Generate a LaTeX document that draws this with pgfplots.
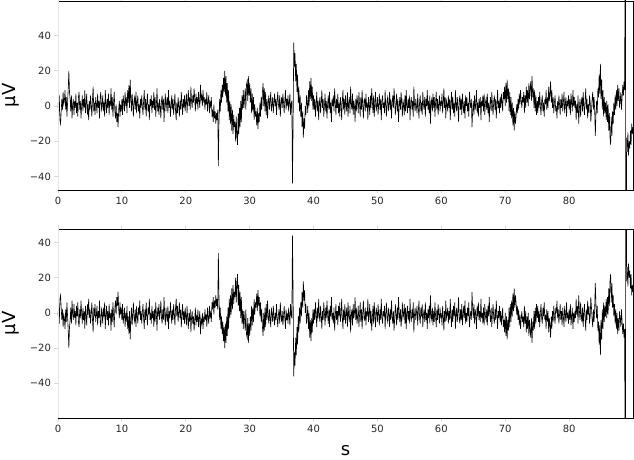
\documentclass[border=0pt]{standalone}
\usepackage{pgfplots}
\pgfplotsset{compat=1.18}
\usepackage{pgfplotstable}
\usepackage{fontspec}
\setmainfont{DejaVu Sans}

% one channel, sampled every 0.1 s; the lower panel shows the same trace inverted
\pgfplotstableread[row sep=\\]{
t v\\
0.0 2\\0.1 -4\\0.2 6\\0.3 -8\\0.4 -10\\0.5 -3\\0.6 4\\0.7 -2\\0.8 8\\0.9 1\\
1.0 3\\1.1 9\\1.2 -2\\1.3 5\\1.4 -6\\1.5 2\\1.6 10\\1.7 20\\1.8 8\\1.9 4\\
2.0 -3\\2.1 6\\2.2 -7\\2.3 1\\2.4 4\\2.5 -5\\2.6 3\\2.7 -1\\2.8 7\\2.9 -4\\
3.0 2\\3.1 -6\\3.2 5\\3.3 8\\3.4 -2\\3.5 3\\3.6 -7\\3.7 0\\3.8 6\\3.9 -3\\
4.0 4\\4.1 -1\\4.2 9\\4.3 -4\\4.4 2\\4.5 7\\4.6 -5\\4.7 1\\4.8 -8\\4.9 3\\
5.0 -2\\5.1 6\\5.2 0\\5.3 -6\\5.4 4\\5.5 11\\5.6 -3\\5.7 2\\5.8 -5\\5.9 5\\
6.0 1\\6.1 -4\\6.2 7\\6.3 -1\\6.4 3\\6.5 -7\\6.6 5\\6.7 8\\6.8 -2\\6.9 0\\
7.0 6\\7.1 -3\\7.2 2\\7.3 -6\\7.4 9\\7.5 1\\7.6 -4\\7.7 4\\7.8 -1\\7.9 7\\
8.0 -5\\8.1 3\\8.2 0\\8.3 10\\8.4 -2\\8.5 5\\8.6 -6\\8.7 2\\8.8 8\\8.9 -3\\
9.0 -7\\9.1 1\\9.2 -9\\9.3 -4\\9.4 -12\\9.5 -2\\9.6 3\\9.7 -6\\9.8 1\\9.9 -3\\
10.0 4\\10.1 -5\\10.2 6\\10.3 2\\10.4 -3\\10.5 8\\10.6 0\\10.7 5\\10.8 -4\\10.9 9\\
11.0 2\\11.1 12\\11.2 -1\\11.3 15\\11.4 4\\11.5 -3\\11.6 7\\11.7 1\\11.8 -6\\11.9 3\\
12.0 5\\12.1 -2\\12.2 8\\12.3 -4\\12.4 2\\12.5 6\\12.6 -3\\12.7 1\\12.8 -7\\12.9 4\\
13.0 -1\\13.1 6\\13.2 0\\13.3 -5\\13.4 3\\13.5 9\\13.6 -2\\13.7 4\\13.8 -6\\13.9 2\\
14.0 7\\14.1 -3\\14.2 1\\14.3 -8\\14.4 4\\14.5 0\\14.6 6\\14.7 -4\\14.8 3\\14.9 -1\\
15.0 8\\15.1 -2\\15.2 5\\15.3 -6\\15.4 1\\15.5 10\\15.6 -3\\15.7 2\\15.8 -5\\15.9 4\\
16.0 0\\16.1 -7\\16.2 3\\16.3 6\\16.4 -2\\16.5 4\\16.6 -9\\16.7 1\\16.8 7\\16.9 -3\\
17.0 2\\17.1 5\\17.2 -4\\17.3 9\\17.4 -1\\17.5 3\\17.6 -6\\17.7 0\\17.8 6\\17.9 -2\\
18.0 4\\18.1 -5\\18.2 1\\18.3 7\\18.4 -3\\18.5 -8\\18.6 2\\18.7 -4\\18.8 5\\18.9 0\\
19.0 -6\\19.1 3\\19.2 -2\\19.3 8\\19.4 1\\19.5 -5\\19.6 4\\19.7 -1\\19.8 6\\19.9 -3\\
20.0 2\\20.1 7\\20.2 -4\\20.3 3\\20.4 9\\20.5 0\\20.6 5\\20.7 -2\\20.8 11\\20.9 3\\
21.0 -1\\21.1 6\\21.2 2\\21.3 10\\21.4 4\\21.5 -3\\21.6 7\\21.7 1\\21.8 5\\21.9 -2\\
22.0 8\\22.1 3\\22.2 -1\\22.3 12\\22.4 4\\22.5 6\\22.6 0\\22.7 9\\22.8 2\\22.9 5\\
23.0 -2\\23.1 4\\23.2 1\\23.3 8\\23.4 -3\\23.5 3\\23.6 6\\23.7 -4\\23.8 2\\23.9 0\\
24.0 5\\24.1 -6\\24.2 -2\\24.3 -9\\24.4 1\\24.5 -7\\24.6 -3\\24.7 -10\\24.8 -4\\24.9 -8\\
25.0 -2\\25.1 -34\\25.2 -8\\25.3 4\\25.4 -3\\25.5 9\\25.6 2\\25.7 12\\25.8 5\\25.9 16\\
26.0 8\\26.1 20\\26.2 6\\26.3 17\\26.4 2\\26.5 13\\26.6 -3\\26.7 9\\26.8 -8\\26.9 3\\
27.0 -10\\27.1 1\\27.2 -14\\27.3 -2\\27.4 -16\\27.5 -5\\27.6 -12\\27.7 -9\\27.8 -20\\27.9 -6\\
28.0 -17\\28.1 -22\\28.2 -4\\28.3 -16\\28.4 -1\\28.5 -12\\28.6 3\\28.7 -9\\28.8 6\\28.9 -2\\
29.0 9\\29.1 -1\\29.2 4\\29.3 10\\29.4 -2\\29.5 12\\29.6 14\\29.7 3\\29.8 17\\29.9 6\\
30.0 13\\30.1 2\\30.2 10\\30.3 -4\\30.4 7\\30.5 -3\\30.6 5\\30.7 -8\\30.8 1\\30.9 -6\\
31.0 -3\\31.1 -11\\31.2 -1\\31.3 -13\\31.4 -4\\31.5 -9\\31.6 2\\31.7 -6\\31.8 5\\31.9 -2\\
32.0 8\\32.1 13\\32.2 0\\32.3 10\\32.4 -3\\32.5 8\\32.6 -5\\32.7 4\\32.8 -7\\32.9 2\\
33.0 6\\33.1 -2\\33.2 3\\33.3 8\\33.4 -3\\33.5 1\\33.6 5\\33.7 -4\\33.8 2\\33.9 7\\
34.0 0\\34.1 4\\34.2 -5\\34.3 3\\34.4 8\\34.5 1\\34.6 -2\\34.7 6\\34.8 -6\\34.9 2\\
35.0 5\\35.1 -1\\35.2 7\\35.3 2\\35.4 -4\\35.5 3\\35.6 9\\35.7 -2\\35.8 4\\35.9 0\\
36.0 6\\36.1 -3\\36.2 2\\36.3 7\\36.4 -5\\36.5 1\\36.6 3\\36.7 -44\\36.8 -10\\36.9 36\\
37.0 22\\37.1 30\\37.2 14\\37.3 24\\37.4 8\\37.5 18\\37.6 2\\37.7 11\\37.8 -3\\37.9 6\\
38.0 -6\\38.1 2\\38.2 -12\\38.3 -3\\38.4 -18\\38.5 -7\\38.6 -13\\38.7 0\\38.8 -5\\38.9 6\\
39.0 2\\39.1 -4\\39.2 9\\39.3 0\\39.4 14\\39.5 4\\39.6 16\\39.7 3\\39.8 11\\39.9 -2\\
40.0 6\\40.1 -2\\40.2 4\\40.3 -6\\40.4 1\\40.5 8\\40.6 -3\\40.7 3\\40.8 -8\\40.9 2\\
41.0 5\\41.1 -4\\41.2 2\\41.3 9\\41.4 -1\\41.5 4\\41.6 -6\\41.7 0\\41.8 7\\41.9 -3\\
42.0 3\\42.1 -7\\42.2 1\\42.3 6\\42.4 -2\\42.5 8\\42.6 -4\\42.7 2\\42.8 -9\\42.9 4\\
43.0 0\\43.1 6\\43.2 -3\\43.3 10\\43.4 2\\43.5 -5\\43.6 4\\43.7 -1\\43.8 7\\43.9 -4\\
44.0 2\\44.1 -6\\44.2 5\\44.3 1\\44.4 -8\\44.5 3\\44.6 9\\44.7 -2\\44.8 4\\44.9 -5\\
45.0 6\\45.1 0\\45.2 -3\\45.3 8\\45.4 -6\\45.5 2\\45.6 5\\45.7 -4\\45.8 11\\45.9 1\\
46.0 -2\\46.1 7\\46.2 -5\\46.3 3\\46.4 0\\46.5 -9\\46.6 4\\46.7 -3\\46.8 6\\46.9 2\\
47.0 -4\\47.1 8\\47.2 1\\47.3 -6\\47.4 5\\47.5 -2\\47.6 9\\47.7 0\\47.8 -7\\47.9 3\\
48.0 4\\48.1 -3\\48.2 7\\48.3 -1\\48.4 2\\48.5 -8\\48.6 5\\48.7 1\\48.8 -5\\48.9 6\\
49.0 -1\\49.1 10\\49.2 3\\49.3 -4\\49.4 6\\49.5 -6\\49.6 2\\49.7 8\\49.8 -3\\49.9 0\\
50.0 5\\50.1 -5\\50.2 1\\50.3 7\\50.4 -2\\50.5 4\\50.6 -8\\50.7 3\\50.8 6\\50.9 -1\\
51.0 2\\51.1 -4\\51.2 9\\51.3 0\\51.4 -6\\51.5 3\\51.6 5\\51.7 -3\\51.8 1\\51.9 8\\
52.0 -2\\52.1 4\\52.2 -7\\52.3 2\\52.4 6\\52.5 -1\\52.6 10\\52.7 3\\52.8 -5\\52.9 1\\
53.0 7\\53.1 -3\\53.2 4\\53.3 -9\\53.4 0\\53.5 5\\53.6 -2\\53.7 8\\53.8 2\\53.9 -6\\
54.0 3\\54.1 1\\54.2 -5\\54.3 6\\54.4 -3\\54.5 9\\54.6 0\\54.7 -4\\54.8 4\\54.9 -1\\
55.0 6\\55.1 -8\\55.2 2\\55.3 5\\55.4 -2\\55.5 3\\55.6 -6\\55.7 11\\55.8 1\\55.9 -3\\
56.0 4\\56.1 0\\56.2 -4\\56.3 7\\56.4 -1\\56.5 -7\\56.6 3\\56.7 6\\56.8 -3\\56.9 2\\
57.0 -5\\57.1 8\\57.2 1\\57.3 -2\\57.4 5\\57.5 -6\\57.6 4\\57.7 0\\57.8 9\\57.9 -2\\
58.0 3\\58.1 -4\\58.2 6\\58.3 -10\\58.4 2\\58.5 4\\58.6 -3\\58.7 7\\58.8 -1\\58.9 5\\
59.0 -6\\59.1 2\\59.2 8\\59.3 -2\\59.4 4\\59.5 -5\\59.6 1\\59.7 6\\59.8 -3\\59.9 3\\
60.0 0\\60.1 7\\60.2 -4\\60.3 2\\60.4 10\\60.5 -1\\60.6 5\\60.7 -7\\60.8 3\\60.9 1\\
61.0 -3\\61.1 6\\61.2 -1\\61.3 4\\61.4 -8\\61.5 2\\61.6 8\\61.7 -2\\61.8 5\\61.9 -4\\
62.0 2\\62.1 -6\\62.2 9\\62.3 1\\62.4 -3\\62.5 5\\62.6 0\\62.7 -9\\62.8 3\\62.9 6\\
63.0 -2\\63.1 4\\63.2 -5\\63.3 7\\63.4 1\\63.5 -4\\63.6 3\\63.7 -7\\63.8 6\\63.9 0\\
64.0 5\\64.1 -3\\64.2 2\\64.3 -6\\64.4 8\\64.5 2\\64.6 -1\\64.7 4\\64.8 -12\\64.9 -3\\
65.0 3\\65.1 -5\\65.2 6\\65.3 -2\\65.4 1\\65.5 9\\65.6 -4\\65.7 2\\65.8 -6\\65.9 4\\
66.0 -1\\66.1 5\\66.2 -8\\66.3 3\\66.4 0\\66.5 6\\66.6 -3\\66.7 7\\66.8 -5\\66.9 2\\
67.0 4\\67.1 -2\\67.2 7\\67.3 -4\\67.4 2\\67.5 -9\\67.6 1\\67.7 5\\67.8 -3\\67.9 8\\
68.0 0\\68.1 -5\\68.2 3\\68.3 6\\68.4 -2\\68.5 4\\68.6 -7\\68.7 1\\68.8 9\\68.9 -1\\
69.0 3\\69.1 -4\\69.2 5\\69.3 -1\\69.4 7\\69.5 2\\69.6 -3\\69.7 8\\69.8 4\\69.9 11\\
70.0 0\\70.1 13\\70.2 2\\70.3 15\\70.4 4\\70.5 10\\70.6 -3\\70.7 8\\70.8 -5\\70.9 5\\
71.0 -7\\71.1 2\\71.2 -11\\71.3 -1\\71.4 -14\\71.5 -3\\71.6 -10\\71.7 -6\\71.8 1\\71.9 -4\\
72.0 4\\72.1 -2\\72.2 7\\72.3 1\\72.4 9\\72.5 3\\72.6 -1\\72.7 5\\72.8 2\\72.9 8\\
73.0 -4\\73.1 6\\73.2 -1\\73.3 11\\73.4 2\\73.5 9\\73.6 0\\73.7 13\\73.8 4\\73.9 10\\
74.0 14\\74.1 3\\74.2 17\\74.3 5\\74.4 10\\74.5 -1\\74.6 9\\74.7 -3\\74.8 6\\74.9 -5\\
75.0 3\\75.1 -4\\75.2 5\\75.3 -1\\75.4 8\\75.5 0\\75.6 -5\\75.7 3\\75.8 6\\75.9 -3\\
76.0 2\\76.1 -6\\76.2 4\\76.3 1\\76.4 9\\76.5 -2\\76.6 5\\76.7 -1\\76.8 11\\76.9 3\\
77.0 7\\77.1 14\\77.2 2\\77.3 9\\77.4 -1\\77.5 5\\77.6 -4\\77.7 2\\77.8 6\\77.9 -3\\
78.0 0\\78.1 -7\\78.2 3\\78.3 -2\\78.4 6\\78.5 1\\78.6 -5\\78.7 4\\78.8 -1\\78.9 7\\
79.0 -3\\79.1 2\\79.2 8\\79.3 -4\\79.4 1\\79.5 5\\79.6 -6\\79.7 3\\79.8 0\\79.9 6\\
80.0 -2\\80.1 4\\80.2 -5\\80.3 7\\80.4 2\\80.5 -3\\80.6 9\\80.7 0\\80.8 5\\80.9 -1\\
81.0 3\\81.1 -8\\81.2 1\\81.3 -4\\81.4 6\\81.5 -10\\81.6 -2\\81.7 4\\81.8 -6\\81.9 2\\
82.0 5\\82.1 -3\\82.2 8\\82.3 0\\82.4 -5\\82.5 3\\82.6 10\\82.7 -2\\82.8 4\\82.9 -7\\
83.0 1\\83.1 -4\\83.2 6\\83.3 2\\83.4 -9\\83.5 -3\\83.6 4\\83.7 8\\83.8 -2\\83.9 5\\
84.0 -2\\84.1 -17\\84.2 -5\\84.3 3\\84.4 -4\\84.5 10\\84.6 5\\84.7 18\\84.8 7\\84.9 24\\
85.0 4\\85.1 15\\85.2 -2\\85.3 9\\85.4 -6\\85.5 5\\85.6 -4\\85.7 2\\85.8 -8\\85.9 3\\
86.0 -9\\86.1 1\\86.2 -14\\86.3 -4\\86.4 -18\\86.5 -22\\86.6 -6\\86.7 -17\\86.8 -3\\86.9 -10\\
87.0 2\\87.1 -5\\87.2 6\\87.3 -2\\87.4 9\\87.5 0\\87.6 12\\87.7 3\\87.8 10\\87.9 -1\\
88.0 3\\88.1 8\\88.2 -2\\88.3 5\\88.4 12\\88.5 6\\88.6 14\\88.7 9\\88.8 200\\88.9 -200\\
89.0 -18\\89.1 -26\\89.2 -15\\89.3 -28\\89.4 -20\\89.5 -24\\89.6 -14\\89.7 -22\\89.8 -10\\89.9 -16\\
90.0 -12\\
}\eeg

\pgfplotsset{
  eegax/.style={
    scale only axis, width=575pt, height=189pt,
    xmin=0, xmax=90,
    xtick={0,10,20,30,40,50,60,70,80},
    xticklabels={0,10,20,30,40,50,60,70,80},
    ytick={-40,-20,0,20,40},
    yticklabels={−40,−20,0,20,40},
    tick align=outside, major tick length=3.5pt,
    tick style={gray!30, line width=0.8pt},
    axis line style={draw=none},
    ticklabel style={font=\fontsize{10}{12}\selectfont, text=black!85},
    ylabel={µV},
    every axis y label/.style={at={(rel axis cs:0,0.5)}, xshift=-47pt,
      rotate=90, anchor=center, font=\fontsize{18}{22}\selectfont},
  },
}

\begin{document}
\begin{tikzpicture}
  \begin{axis}[eegax, name=top, at={(0pt,0pt)}, anchor=north west,
      ymin=-47.7, ymax=59.7]
    \addplot[black, line width=0.6pt] table[x=t, y=v] {\eeg};
  \end{axis}
  \begin{axis}[eegax, name=bot, at={(0pt,-228pt)}, anchor=north west,
      ymin=-59.7, ymax=47.7,
      xlabel={s},
      every axis x label/.style={at={(rel axis cs:0.5,0)}, yshift=-33pt,
        anchor=center, font=\fontsize{18}{22}\selectfont}]
    \addplot[black, line width=0.6pt] table[x=t, y expr=-\thisrow{v}] {\eeg};
  \end{axis}
  % frames: dark top, bottom and right, pale left
  \foreach \ax in {top,bot} {
    \draw[black, line width=0.9pt] (\ax.south west) -- (\ax.south east)
      -- (\ax.north east) -- (\ax.north west);
    \draw[gray!20, line width=0.9pt] (\ax.south west) -- (\ax.north west);
  }
  \pgfresetboundingbox
  \useasboundingbox (-58pt,1pt) rectangle (576pt,-459pt);
\end{tikzpicture}
\end{document}
